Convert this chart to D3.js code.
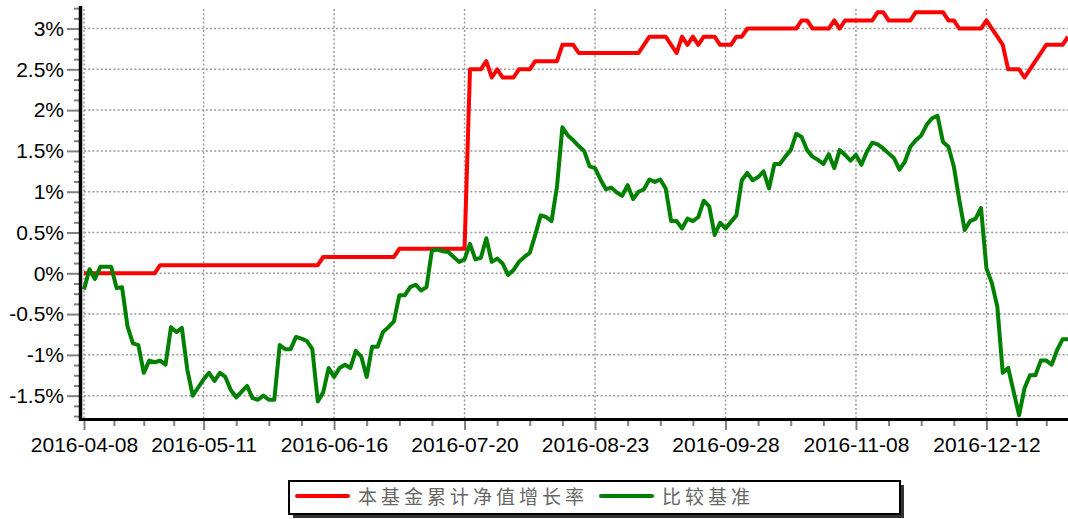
<!DOCTYPE html>
<html><head><meta charset="utf-8">
<script src="https://cdn.jsdelivr.net/npm/d3@7/dist/d3.min.js"></script>
<style>html,body{margin:0;padding:0;background:#fff;}svg{display:block;}</style>
</head><body>
<svg id="chart" width="1068" height="519"></svg>
<script>
// ---- data ----
const startDate = "2016-04-08";
const endDate = "2017-01-03";
const holidays = ["2016-05-02","2016-06-09","2016-06-10","2016-09-15","2016-09-16",
  "2016-10-03","2016-10-04","2016-10-05","2016-10-06","2016-10-07","2017-01-02"];
const tickLabels = ["2016-04-08","2016-05-11","2016-06-16","2016-07-20","2016-08-23","2016-09-28","2016-11-08","2016-12-12"];
const yTickValues = [-1.5,-1,-0.5,0,0.5,1,1.5,2,2.5,3];
const seriesNames = ["本基金累计净值增长率","比较基准"];
const seriesColors = ["#ff0000","#008000"];
const redValues = [
  0,0,0,0,0,0,0,0,0,0,0,0,0,0,
  0.1,0.1,0.1,0.1,0.1,0.1,0.1,0.1,0.1,0.1,0.1,0.1,0.1,0.1,0.1,0.1,0.1,0.1,0.1,0.1,0.1,0.1,0.1,0.1,0.1,0.1,0.1,0.1,0.1,0.1,
  0.2,0.2,0.2,0.2,0.2,0.2,0.2,0.2,0.2,0.2,0.2,0.2,0.2,0.2,
  0.3,0.3,0.3,0.3,0.3,0.3,0.3,0.3,0.3,0.3,0.3,0.3,0.3,
  2.5,2.5,2.5,2.6,2.4,2.5,2.4,2.4,2.4,2.5,2.5,2.5,2.6,2.6,2.6,2.6,2.6,
  2.8,2.8,2.8,2.7,2.7,2.7,2.7,2.7,2.7,2.7,2.7,2.7,2.7,2.7,2.7,
  2.8,2.9,2.9,2.9,2.9,2.8,2.7,2.9,2.8,2.9,2.8,2.9,2.9,2.9,2.8,2.8,2.8,2.9,2.9,
  3.0,3.0,3.0,3.0,3.0,3.0,3.0,3.0,3.0,3.0,3.1,3.1,3.0,3.0,3.0,3.0,3.1,3.0,
  3.1,3.1,3.1,3.1,3.1,3.1,3.2,3.2,3.1,3.1,3.1,3.1,3.1,3.2,3.2,3.2,3.2,3.2,3.2,3.1,3.1,
  3.0,3.0,3.0,3.0,3.0,3.1,3.0,2.9,2.8,2.5,2.5,2.5,2.4,2.5,2.6,2.7,2.8,2.8,2.8,2.8,2.9,2.9
];
const greenValues = [
  -0.20,0.05,-0.07,0.08,0.08,0.08,-0.18,-0.17,-0.65,-0.86,
  -0.88,-1.22,-1.07,-1.09,-1.07,-1.12,-0.66,-0.72,-0.67,-1.18,
  -1.50,-1.40,-1.30,-1.22,-1.32,-1.22,-1.27,-1.43,-1.52,-1.45,
  -1.38,-1.53,-1.55,-1.50,-1.55,-1.55,-0.88,-0.93,-0.93,-0.78,
  -0.80,-0.83,-0.93,-1.57,-1.46,-1.16,-1.27,-1.16,-1.12,-1.16,
  -0.95,-1.02,-1.27,-0.90,-0.90,-0.72,-0.66,-0.59,-0.27,-0.27,
  -0.17,-0.14,-0.21,-0.17,0.28,0.29,0.27,0.26,0.20,0.14,
  0.17,0.36,0.17,0.19,0.43,0.14,0.18,0.12,-0.02,0.04,
  0.14,0.20,0.25,0.47,0.71,0.69,0.64,1.06,1.79,1.69,
  1.63,1.56,1.50,1.31,1.29,1.15,1.03,1.05,0.99,0.95,
  1.08,0.91,1.00,1.03,1.15,1.12,1.15,1.04,0.64,0.64,
  0.55,0.67,0.64,0.69,0.89,0.82,0.47,0.62,0.55,0.63,
  0.71,1.14,1.23,1.14,1.18,1.25,1.04,1.34,1.34,1.43,
  1.51,1.71,1.67,1.51,1.43,1.39,1.34,1.46,1.29,1.51,
  1.45,1.38,1.45,1.33,1.49,1.60,1.58,1.53,1.47,1.41,
  1.27,1.37,1.55,1.63,1.69,1.82,1.90,1.93,1.61,1.55,
  1.31,0.90,0.53,0.64,0.67,0.80,0.06,-0.12,-0.41,-1.22,
  -1.16,-1.45,-1.74,-1.41,-1.25,-1.25,-1.07,-1.07,-1.12,-0.94,
  -0.81,-0.81
];

// ---- trading-day categories ----
const fmt = d3.utcFormat("%Y-%m-%d");
const dates = [];
for (let d = new Date(startDate + "T00:00:00Z"); fmt(d) <= endDate; d = d3.utcDay.offset(d, 1)) {
  const wd = d.getUTCDay();
  const s = fmt(d);
  if (wd !== 0 && wd !== 6 && !holidays.includes(s)) dates.push(s);
}
const n = Math.min(dates.length, redValues.length, greenValues.length);
const cats = dates.slice(0, n);

const FONT = "'Liberation Sans', Arial, 'Noto Sans CJK SC', sans-serif";
const svg = d3.select("#chart");
const plotL = 84, plotR = 1068, plotT = 7, plotB = 419;

const x = d3.scalePoint().domain(cats).range([plotL, plotR]).padding(0);
const y = d3.scaleLinear().domain([-1.786, 3.264]).range([plotB, plotT]);

// grid
const grid = svg.append("g");
grid.selectAll("line.h").data(yTickValues).join("line")
  .attr("x1", plotL).attr("x2", plotR)
  .attr("y1", d => y(d)).attr("y2", d => y(d))
  .attr("stroke", "#999").attr("stroke-width", 1.5).attr("stroke-dasharray", "2,2.2");
grid.selectAll("line.v").data(tickLabels).join("line")
  .attr("x1", d => x(d)).attr("x2", d => x(d))
  .attr("y1", plotT + 2).attr("y2", plotB)
  .attr("stroke", "#999").attr("stroke-width", 1.5).attr("stroke-dasharray", "2,2.2");

// y axis
const yMinor = d3.range(-1.75, 3.26, 0.125).filter(v => !yTickValues.some(t => Math.abs(t - v) < 1e-6));
const yAxisG = svg.append("g").attr("transform", "translate(79,0)");
yAxisG.call(d3.axisLeft(y).tickValues(yTickValues).tickSize(12).tickPadding(3).tickFormat(d => `${d}%`));
const yMinorG = svg.append("g").attr("transform", "translate(79,0)");
yMinorG.call(d3.axisLeft(y).tickValues(yMinor).tickSize(5).tickFormat(""));

// x axis
const xAxisG = svg.append("g").attr("transform", "translate(0,421)");
xAxisG.call(d3.axisBottom(x).tickValues(tickLabels).tickSize(9).tickPadding(7));
const majorX = tickLabels.map(t => x(t));
const xMinorPos = [];
for (let k = 0; k < majorX.length - 1; k++) {
  const st = (majorX[k + 1] - majorX[k]) / 4;
  for (let j = 1; j < 4; j++) xMinorPos.push(majorX[k] + j * st);
}
const firstStep = (majorX[1] - majorX[0]) / 4;
for (let p = majorX[majorX.length - 1] + firstStep; p < plotR; p += firstStep) xMinorPos.push(p);
const xMinorScale = d3.scaleLinear().domain([0, 1]).range([0, 1]);
const xMinorG = svg.append("g").attr("transform", "translate(0,421)");
xMinorG.call(d3.axisBottom(xMinorScale).tickValues(xMinorPos).tickSize(5).tickFormat(""));

[yAxisG, yMinorG, xAxisG, xMinorG].forEach(g => {
  g.select(".domain").remove();
  g.selectAll(".tick line").attr("stroke", "#808080").attr("stroke-width", 2);
  g.selectAll("text").attr("font-family", FONT).attr("font-size", 21).attr("fill", "#000");
});

// series
const line = d3.line().x((d, i) => x(cats[i])).y(d => y(d));
[redValues, greenValues].forEach((vals, k) => {
  svg.append("path").datum(vals.slice(0, n))
    .attr("d", line).attr("fill", "none")
    .attr("stroke", seriesColors[k]).attr("stroke-width", 4)
    .attr("stroke-linejoin", "round");
});

// axis lines
svg.append("line").attr("x1", 80.5).attr("x2", 80.5).attr("y1", 6).attr("y2", 421)
  .attr("stroke", "#000").attr("stroke-width", 3.5);
svg.append("line").attr("x1", 79).attr("x2", plotR).attr("y1", 419.5).attr("y2", 419.5)
  .attr("stroke", "#000").attr("stroke-width", 3);

// legend
const lg = svg.append("g");
lg.append("rect").attr("x", 293).attr("y", 485).attr("width", 611).attr("height", 33).attr("fill", "#333");
lg.append("rect").attr("x", 289).attr("y", 481).attr("width", 611).attr("height", 33)
  .attr("fill", "#fff").attr("stroke", "#000").attr("stroke-width", 2);
const legendX = [297, 601];
seriesNames.forEach((name, k) => {
  lg.append("line").attr("x1", legendX[k]).attr("x2", legendX[k] + 51).attr("y1", 496).attr("y2", 496)
    .attr("stroke", seriesColors[k]).attr("stroke-width", 4).attr("stroke-linecap", "round");
  lg.append("text").attr("x", legendX[k] + 61).attr("y", 497).attr("dominant-baseline", "central")
    .attr("font-family", FONT).attr("font-size", 19).attr("letter-spacing", 4)
    .attr("fill", "#666").text(name);
});
</script>
</body></html>
